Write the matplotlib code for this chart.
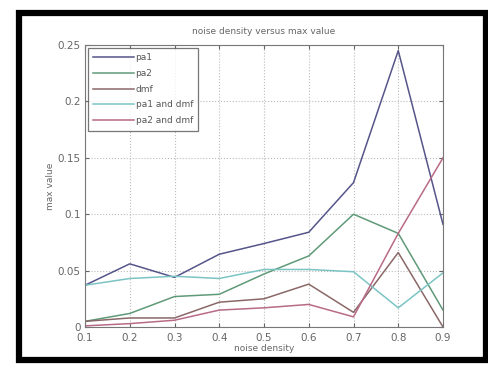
import matplotlib
matplotlib.use("Agg")
import matplotlib.pyplot as plt
from matplotlib.patches import Rectangle

# 読み取った値
noise_density = [0.1, 0.2, 0.3, 0.4, 0.5, 0.6, 0.7, 0.8, 0.9]
pa1 = [0.037, 0.056, 0.044, 0.0645, 0.074, 0.084, 0.128, 0.245, 0.091]
pa2 = [0.005, 0.012, 0.027, 0.029, 0.047, 0.063, 0.100, 0.083, 0.015]
dmf = [0.005, 0.008, 0.008, 0.022, 0.025, 0.038, 0.013, 0.066, 0.0]
pa1_dmf = [0.037, 0.043, 0.045, 0.043, 0.051, 0.051, 0.049, 0.017, 0.048]
pa2_dmf = [0.001, 0.003, 0.006, 0.015, 0.017, 0.020, 0.009, 0.083, 0.150]

series = [
    ("pa1", pa1, "#55558a"),
    ("pa2", pa2, "#5f9a78"),
    ("dmf", dmf, "#8a6868"),
    ("pa1 and dmf", pa1_dmf, "#7cc4c4"),
    ("pa2 and dmf", pa2_dmf, "#b86a86"),
]

fig = plt.figure(figsize=(4.88, 3.69), dpi=100)
fig.patch.set_facecolor("white")

# 外枠 (黒い太枠)
fig.patches.append(Rectangle((18.5 / 488, 1 - 360 / 369), 467 / 488, 347 / 369,
                             transform=fig.transFigure, fill=False,
                             edgecolor="black", linewidth=4.5, zorder=0))

ax = fig.add_axes([85 / 488, 1 - 327 / 369, 358 / 488, 282 / 369])
for name, vals, col in series:
    ax.plot(noise_density, vals, color=col, linewidth=1.1, label=name)

ax.set_xlim(0.1, 0.9)
ax.set_ylim(0, 0.25)
ax.set_xticks(noise_density)
ax.set_xticklabels(["0.1", "0.2", "0.3", "0.4", "0.5", "0.6", "0.7", "0.8", "0.9"])
ax.set_yticks([0, 0.05, 0.1, 0.15, 0.2, 0.25])
ax.set_yticklabels(["0", "0.05", "0.1", "0.15", "0.2", "0.25"])
ax.tick_params(direction="in", labelsize=7.5, colors="#666666", length=3,
               top=True, right=True, pad=3)
ax.tick_params(axis="x", pad=4)
ax.grid(True, linestyle=":", color="#bbbbbb", linewidth=0.8)
for s in ax.spines.values():
    s.set_color("#777777")
    s.set_linewidth(0.8)

ax.set_title("noise density versus max value", fontsize=6.5, color="#666666", pad=8)
ax.set_xlabel("noise density", fontsize=6.5, color="#666666", labelpad=1)
ax.set_ylabel("max value", fontsize=6.5, color="#666666", labelpad=2)

leg = ax.legend(loc="upper left", fontsize=6.5, frameon=True, fancybox=False,
                borderaxespad=0.3, handlelength=4.5, labelspacing=0.75,
                borderpad=0.6, handletextpad=0.2)
leg.get_frame().set_edgecolor("#555555")
leg.get_frame().set_linewidth(0.9)
for t in leg.get_texts():
    t.set_color("#555555")

fig.savefig("out.png", dpi=100)
